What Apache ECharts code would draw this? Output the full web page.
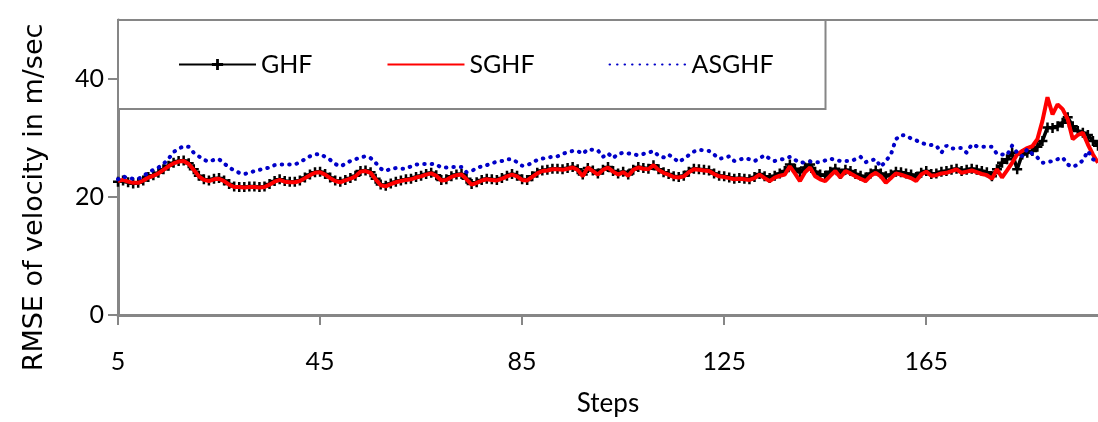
<!DOCTYPE html>
<html>
<head>
<meta charset="utf-8">
<script src="https://cdn.jsdelivr.net/npm/echarts@6/dist/echarts.min.js"></script>
<style>
  html, body { margin: 0; padding: 0; background: #fff; }
  #main { width: 1098px; height: 422px; }
</style>
</head>
<body>
<div id="main"></div>
<script>
var steps = [];
for (var s = 5; s <= 199; s++) steps.push(String(s));

var xTickLabels = ['5', '45', '85', '125', '165'];
var yTickValues = [0, 20, 40];

// RMSE values, steps 5..199
var sghf = [
  22.7, 22.9, 22.6, 22.4, 22.4, 22.8, 23.3, 23.6, 24.0, 24.6,
  25.2, 25.7, 26.0, 26.1, 25.6, 24.6, 23.5, 22.9, 22.7, 23.0,
  23.1, 22.7, 22.1, 21.7, 21.7, 21.6, 21.7, 21.7, 21.6, 21.7,
  22.1, 22.6, 22.9, 22.6, 22.5, 22.5, 22.7, 23.2, 23.7, 24.1,
  24.2, 23.8, 23.2, 22.7, 22.5, 22.8, 23.1, 23.5, 24.3, 24.4,
  24.1, 23.0, 22.0, 21.8, 22.2, 22.5, 22.7, 22.9, 23.0, 23.3,
  23.5, 23.8, 24.0, 23.6, 22.8, 22.9, 23.4, 23.7, 23.8, 23.0,
  22.1, 22.4, 22.8, 23.0, 22.9, 22.8, 23.1, 23.5, 23.8, 23.5,
  22.9, 22.8, 23.4, 24.0, 24.4, 24.5, 24.7, 24.7, 24.6, 24.8,
  25.0, 24.6, 23.5, 25.0, 24.4, 23.8, 24.6, 25.0, 24.3, 23.8,
  24.2, 23.6, 24.6, 25.0, 24.8, 24.7, 25.4, 24.6, 24.1, 23.8,
  23.4, 23.3, 23.5, 24.2, 24.7, 24.6, 24.5, 24.4, 23.9, 23.5,
  23.4, 23.2, 23.0, 23.1, 23.0, 22.9, 23.2, 23.8, 23.2, 22.7,
  23.3, 23.6, 23.8, 25.2, 24.0, 22.7, 24.2, 25.0, 23.5, 23.0,
  22.7, 23.6, 24.4, 23.3, 24.4, 24.0, 23.5, 23.1, 22.7, 23.6,
  24.1, 23.5, 22.4, 23.2, 24.0, 23.8, 23.5, 23.2, 22.7, 23.8,
  24.3, 23.6, 23.7, 24.0, 24.1, 24.4, 24.7, 24.1, 24.3, 24.5,
  24.2, 23.9, 23.7, 23.1, 24.7, 23.3, 24.5, 25.8, 27.2, 27.8,
  28.3, 28.6, 29.8, 32.9, 36.9, 34.0, 35.7, 34.9, 33.2, 29.8,
  30.5, 30.9, 28.9, 27.2, 25.8
];

var ghf = [
  22.6, 22.8, 22.5, 22.3, 22.4, 22.8, 23.4, 23.7, 24.1, 24.7,
  25.3, 25.8, 26.1, 26.2, 25.7, 24.7, 23.6, 23.0, 22.8, 23.1,
  23.2, 22.8, 22.2, 21.8, 21.7, 21.7, 21.8, 21.8, 21.7, 21.8,
  22.2, 22.7, 23.0, 22.7, 22.6, 22.6, 22.8, 23.3, 23.8, 24.2,
  24.3, 23.9, 23.3, 22.8, 22.6, 22.9, 23.2, 23.6, 24.4, 24.5,
  24.2, 23.1, 22.1, 21.9, 22.3, 22.6, 22.8, 23.0, 23.1, 23.4,
  23.6, 23.9, 24.1, 23.7, 22.9, 23.0, 23.5, 23.8, 23.9, 23.1,
  22.2, 22.5, 22.9, 23.1, 23.0, 22.9, 23.2, 23.6, 23.9, 23.6,
  23.0, 22.9, 23.5, 24.1, 24.5, 24.6, 24.8, 24.8, 24.7, 24.9,
  25.1, 24.7, 23.8, 24.9, 24.5, 24.0, 24.6, 25.1, 24.4, 24.0,
  24.3, 23.8, 24.6, 25.1, 24.9, 24.8, 25.4, 24.7, 24.2, 23.9,
  23.5, 23.4, 23.6, 24.3, 24.8, 24.7, 24.6, 24.5, 24.0, 23.6,
  23.5, 23.3, 23.1, 23.2, 23.1, 23.0, 23.4, 23.9, 23.5, 23.2,
  23.6, 24.0, 24.4, 25.5, 24.8, 24.2, 25.0, 25.5, 24.3, 23.8,
  23.6, 24.3, 24.8, 23.9, 24.6, 24.4, 23.9, 23.6, 23.3, 24.0,
  24.5, 24.0, 23.5, 23.8, 24.3, 24.2, 24.0, 23.8, 23.4, 24.1,
  24.4, 23.9, 24.0, 24.3, 24.4, 24.6, 24.8, 24.4, 24.6, 24.8,
  24.6, 24.4, 24.2, 23.5, 24.7, 25.8, 26.4, 27.5, 24.7, 27.2,
  27.5, 27.8, 28.5, 29.5, 31.8, 31.7, 32.0, 32.6, 33.5, 32.0,
  31.2, 30.9, 30.5, 29.5, 28.7
];

var asghf = [
  23.0, 23.5, 23.2, 23.1, 23.1, 23.5, 24.2, 24.6, 25.0, 25.6,
  26.5, 27.6, 28.2, 28.6, 28.5, 27.5, 26.9, 26.3, 26.0, 26.3,
  26.4, 25.7, 25.0, 24.5, 24.1, 23.9, 24.1, 24.4, 24.6, 24.8,
  25.0, 25.4, 25.5, 25.5, 25.5, 25.5, 25.9, 26.4, 26.9, 27.2,
  27.3, 26.8, 26.3, 25.6, 25.2, 25.6, 26.1, 26.4, 26.7, 26.9,
  26.6, 25.8, 24.8, 24.4, 24.8, 24.9, 24.8, 24.8, 25.2, 25.5,
  25.6, 25.6, 25.6, 25.5, 25.0, 25.0, 25.1, 25.1, 25.1, 24.2,
  24.4, 24.9, 25.2, 25.4, 25.7, 26.0, 26.1, 26.4, 26.4, 25.9,
  25.3, 25.4, 25.8, 26.3, 26.5, 26.7, 26.8, 26.9, 27.3, 27.6,
  27.8, 27.8, 27.3, 28.1, 28.0, 27.9, 26.8, 27.4, 26.6, 27.3,
  27.5, 27.4, 27.2, 27.1, 27.3, 27.5, 27.8, 27.0, 26.7, 27.2,
  26.6, 25.9, 26.5, 27.1, 27.7, 28.0, 27.9, 27.8, 27.2, 26.5,
  26.6, 26.9, 26.1, 26.3, 26.6, 26.4, 26.1, 26.5, 27.1, 26.5,
  26.1, 26.3, 26.5, 26.8, 26.3, 25.8, 25.9, 26.0, 25.9, 25.9,
  26.2, 26.5, 26.3, 26.1, 26.1, 26.1, 26.4, 26.8, 25.9, 26.2,
  26.4, 25.1, 26.1, 27.2, 29.8, 30.5, 30.4, 29.9, 29.6, 29.2,
  28.9, 28.8, 28.7, 27.5, 28.7, 28.2, 28.3, 28.3, 27.5, 28.9,
  28.6, 28.5, 28.5, 28.5, 27.3, 27.2, 27.1, 28.7, 27.5, 26.9,
  28.1, 27.3, 26.7, 25.8, 25.9, 26.1, 26.4, 26.7, 25.5, 25.1,
  25.5, 26.2, 27.8, 26.4, 26.0
];

var myChart = echarts.init(document.getElementById('main'));
var gray = '#868686';
var font = 'Lato';
var plus = 'path://M3.75,0h2.5v3.75h3.75v2.5h-3.75v3.75h-2.5v-3.75h-3.75v-2.5h3.75z';
var clear = 'rgba(0,0,0,0)';

var option = {
  animation: false,
  backgroundColor: '#fff',
  textStyle: { fontFamily: font },
  grid: {
    left: 118, right: 0, top: 20, bottom: 107,
    outerBoundsMode: 'none'
  },
  legend: {
    left: 118, top: 20,
    padding: [32, 52, 32, 60],
    backgroundColor: '#fff',
    borderColor: gray,
    borderWidth: 2,
    itemWidth: 77,
    itemHeight: 14,
    itemGap: 74,
    textStyle: { fontFamily: font, fontSize: 25, color: '#000' },
    data: ['GHF', 'SGHF', 'ASGHF']
  },
  xAxis: [{
    type: 'category',
    data: steps,
    boundaryGap: false,
    name: 'Steps',
    nameLocation: 'middle',
    nameGap: 76,
    nameTextStyle: { fontFamily: font, fontSize: 26, color: '#000' },
    axisLine: { lineStyle: { color: gray, width: 3 } },
    axisTick: { interval: 39, length: 10, lineStyle: { color: gray, width: 2 } },
    axisLabel: {
      interval: 39, margin: 34, fontSize: 25, color: '#000',
      formatter: function (v) { return xTickLabels.indexOf(v) >= 0 ? v : ''; }
    },
    splitLine: { show: false }
  }, {
    type: 'category',
    position: 'top',
    data: steps,
    boundaryGap: false,
    axisLine: { show: true, lineStyle: { color: gray, width: 2 } },
    axisTick: { show: false },
    axisLabel: { show: false },
    splitLine: { show: false }
  }],
  yAxis: {
    type: 'value',
    min: 0, max: 50,
    name: 'RMSE of velocity in m/sec',
    nameLocation: 'middle',
    nameGap: 70,
    nameTextStyle: {
      fontFamily: 'DejaVu Sans', fontSize: 27, color: '#000',
      padding: [0, 60, 0, 0]
    },
    axisLine: { show: true, lineStyle: { color: gray, width: 3 } },
    axisTick: { show: true, length: 10, customValues: yTickValues, lineStyle: { color: gray, width: 2 } },
    axisLabel: { margin: 14, fontSize: 25, color: '#000', customValues: yTickValues },
    splitLine: { show: false }
  },
  series: [{
    name: 'GHF',
    type: 'line',
    z: 1,
    data: ghf,
    symbol: plus,
    symbolSize: 10,
    showSymbol: true,
    showAllSymbol: true,
    itemStyle: { color: '#000' },
    lineStyle: { color: '#000', width: 3.5 }
  }, {
    name: 'SGHF',
    type: 'line',
    z: 5,
    data: sghf,
    symbol: 'rect',
    showSymbol: false,
    itemStyle: { color: clear },
    lineStyle: { color: '#ff0000', width: 4 }
  }, {
    name: 'ASGHF',
    type: 'line',
    z: 5,
    data: asghf,
    symbol: 'rect',
    showSymbol: false,
    itemStyle: { color: clear },
    lineStyle: { color: '#0000c8', width: 4, type: [0.5, 7], cap: 'round' }
  }]
};
myChart.setOption(option);
</script>
</body>
</html>
